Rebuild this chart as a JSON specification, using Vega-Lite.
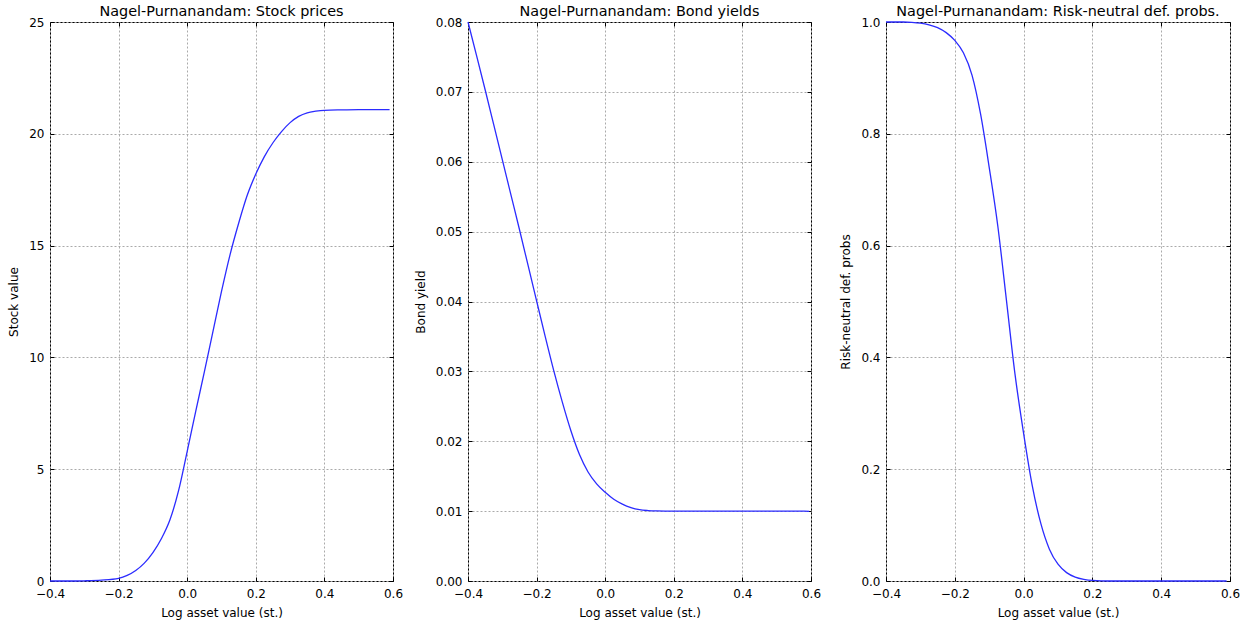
{
  "$schema": "https://vega.github.io/schema/vega-lite/v6.json",
  "background": "white",
  "padding": {"left": 7, "top": 3, "right": 5, "bottom": 5},
  "bounds": "flush",
  "spacing": 75,
  "datasets": {
    "stock": [
      {"x": -0.4, "v": 0.0}, {"x": -0.35, "v": 0.0}, {"x": -0.3, "v": 0.01}, {"x": -0.25, "v": 0.04},
      {"x": -0.2, "v": 0.12}, {"x": -0.175, "v": 0.25}, {"x": -0.15, "v": 0.47}, {"x": -0.125, "v": 0.8},
      {"x": -0.1, "v": 1.27}, {"x": -0.075, "v": 1.9}, {"x": -0.05, "v": 2.75}, {"x": -0.025, "v": 4.05},
      {"x": 0.0, "v": 5.8}, {"x": 0.025, "v": 7.6}, {"x": 0.05, "v": 9.35}, {"x": 0.075, "v": 11.15},
      {"x": 0.1, "v": 12.95}, {"x": 0.125, "v": 14.6}, {"x": 0.15, "v": 16.0}, {"x": 0.175, "v": 17.25},
      {"x": 0.2, "v": 18.2}, {"x": 0.225, "v": 18.98}, {"x": 0.25, "v": 19.6}, {"x": 0.275, "v": 20.1},
      {"x": 0.3, "v": 20.5}, {"x": 0.325, "v": 20.78}, {"x": 0.35, "v": 20.94}, {"x": 0.375, "v": 21.01},
      {"x": 0.4, "v": 21.05}, {"x": 0.45, "v": 21.07}, {"x": 0.5, "v": 21.08}, {"x": 0.55, "v": 21.08},
      {"x": 0.59, "v": 21.08}
    ],
    "bond": [
      {"x": -0.4, "v": 0.0800}, {"x": -0.375, "v": 0.0752}, {"x": -0.35, "v": 0.0703}, {"x": -0.325, "v": 0.0653},
      {"x": -0.3, "v": 0.0603}, {"x": -0.275, "v": 0.0553}, {"x": -0.25, "v": 0.0503}, {"x": -0.225, "v": 0.0452},
      {"x": -0.2, "v": 0.0401}, {"x": -0.175, "v": 0.0350}, {"x": -0.15, "v": 0.0301}, {"x": -0.125, "v": 0.0256},
      {"x": -0.1, "v": 0.0215}, {"x": -0.075, "v": 0.0181}, {"x": -0.05, "v": 0.0156}, {"x": -0.025, "v": 0.0139},
      {"x": 0.0, "v": 0.0127}, {"x": 0.025, "v": 0.0117}, {"x": 0.05, "v": 0.0110}, {"x": 0.075, "v": 0.0105},
      {"x": 0.1, "v": 0.0102}, {"x": 0.125, "v": 0.01008}, {"x": 0.15, "v": 0.01003}, {"x": 0.2, "v": 0.0100},
      {"x": 0.3, "v": 0.0100}, {"x": 0.4, "v": 0.0100}, {"x": 0.5, "v": 0.0100}, {"x": 0.58, "v": 0.0100},
      {"x": 0.595, "v": 0.00995}
    ],
    "prob": [
      {"x": -0.4, "v": 1.0}, {"x": -0.375, "v": 1.0}, {"x": -0.35, "v": 1.0}, {"x": -0.325, "v": 0.9995},
      {"x": -0.3, "v": 0.998}, {"x": -0.275, "v": 0.995}, {"x": -0.25, "v": 0.99}, {"x": -0.225, "v": 0.981},
      {"x": -0.2, "v": 0.967}, {"x": -0.175, "v": 0.945}, {"x": -0.15, "v": 0.905}, {"x": -0.125, "v": 0.835},
      {"x": -0.1, "v": 0.74}, {"x": -0.075, "v": 0.635}, {"x": -0.05, "v": 0.503}, {"x": -0.025, "v": 0.37},
      {"x": 0.0, "v": 0.264}, {"x": 0.025, "v": 0.171}, {"x": 0.05, "v": 0.103}, {"x": 0.075, "v": 0.057},
      {"x": 0.1, "v": 0.030}, {"x": 0.125, "v": 0.015}, {"x": 0.15, "v": 0.007}, {"x": 0.175, "v": 0.003},
      {"x": 0.2, "v": 0.001}, {"x": 0.25, "v": 0.0}, {"x": 0.3, "v": 0.0}, {"x": 0.4, "v": 0.0},
      {"x": 0.5, "v": 0.0}, {"x": 0.59, "v": 0.0}
    ]
  },
  "hconcat": [
    {
      "width": 343, "height": 559,
      "title": "Nagel-Purnanandam: Stock prices",
      "data": {"name": "stock"},
      "layer": [
        {
          "mark": {"type": "line", "color": "#2b2bff", "strokeWidth": 1.3, "interpolate": "monotone"},
          "encoding": {
            "x": {"field": "x", "type": "quantitative", "scale": {"domain": [-0.4, 0.6], "nice": false, "zero": false},
                  "axis": {"title": "Log asset value (st.)", "values": [-0.4, -0.2, 0, 0.2, 0.4, 0.6], "format": ".1f"}},
            "y": {"field": "v", "type": "quantitative", "scale": {"domain": [0, 25], "nice": false},
                  "axis": {"title": "Stock value", "values": [0, 5, 10, 15, 20, 25], "format": "d"}}
          }
        },
        {
          "mark": {"type": "line", "opacity": 0},
          "encoding": {
            "x": {"field": "x", "type": "quantitative", "scale": {"domain": [-0.4, 0.6], "nice": false, "zero": false},
                  "axis": {"orient": "top", "labels": false, "grid": false, "title": null, "values": [-0.4, -0.2, 0, 0.2, 0.4, 0.6]}},
            "y": {"field": "v", "type": "quantitative", "scale": {"domain": [0, 25], "nice": false},
                  "axis": {"orient": "right", "labels": false, "grid": false, "title": null, "values": [0, 5, 10, 15, 20, 25]}}
          }
        }
      ],
      "resolve": {"axis": {"x": "independent", "y": "independent"}}
    },
    {
      "width": 343, "height": 559,
      "title": "Nagel-Purnanandam: Bond yields",
      "data": {"name": "bond"},
      "layer": [
        {
          "mark": {"type": "line", "color": "#2b2bff", "strokeWidth": 1.3, "interpolate": "monotone"},
          "encoding": {
            "x": {"field": "x", "type": "quantitative", "scale": {"domain": [-0.4, 0.6], "nice": false, "zero": false},
                  "axis": {"title": "Log asset value (st.)", "values": [-0.4, -0.2, 0, 0.2, 0.4, 0.6], "format": ".1f"}},
            "y": {"field": "v", "type": "quantitative", "scale": {"domain": [0, 0.08], "nice": false},
                  "axis": {"title": "Bond yield", "values": [0, 0.01, 0.02, 0.03, 0.04, 0.05, 0.06, 0.07, 0.08], "format": ".2f"}}
          }
        },
        {
          "mark": {"type": "line", "opacity": 0},
          "encoding": {
            "x": {"field": "x", "type": "quantitative", "scale": {"domain": [-0.4, 0.6], "nice": false, "zero": false},
                  "axis": {"orient": "top", "labels": false, "grid": false, "title": null, "values": [-0.4, -0.2, 0, 0.2, 0.4, 0.6]}},
            "y": {"field": "v", "type": "quantitative", "scale": {"domain": [0, 0.08], "nice": false},
                  "axis": {"orient": "right", "labels": false, "grid": false, "title": null, "values": [0, 0.01, 0.02, 0.03, 0.04, 0.05, 0.06, 0.07, 0.08]}}
          }
        }
      ],
      "resolve": {"axis": {"x": "independent", "y": "independent"}}
    },
    {
      "width": 344, "height": 559,
      "title": "Nagel-Purnanandam: Risk-neutral def. probs.",
      "data": {"name": "prob"},
      "layer": [
        {
          "mark": {"type": "line", "color": "#2b2bff", "strokeWidth": 1.3, "interpolate": "monotone"},
          "encoding": {
            "x": {"field": "x", "type": "quantitative", "scale": {"domain": [-0.4, 0.6], "nice": false, "zero": false},
                  "axis": {"title": "Log asset value (st.)", "values": [-0.4, -0.2, 0, 0.2, 0.4, 0.6], "format": ".1f"}},
            "y": {"field": "v", "type": "quantitative", "scale": {"domain": [0, 1], "nice": false},
                  "axis": {"title": "Risk-neutral def. probs", "values": [0, 0.2, 0.4, 0.6, 0.8, 1.0], "format": ".1f"}}
          }
        },
        {
          "mark": {"type": "line", "opacity": 0},
          "encoding": {
            "x": {"field": "x", "type": "quantitative", "scale": {"domain": [-0.4, 0.6], "nice": false, "zero": false},
                  "axis": {"orient": "top", "labels": false, "grid": false, "title": null, "values": [-0.4, -0.2, 0, 0.2, 0.4, 0.6]}},
            "y": {"field": "v", "type": "quantitative", "scale": {"domain": [0, 1], "nice": false},
                  "axis": {"orient": "right", "labels": false, "grid": false, "title": null, "values": [0, 0.2, 0.4, 0.6, 0.8, 1.0]}}
          }
        }
      ],
      "resolve": {"axis": {"x": "independent", "y": "independent"}}
    }
  ],
  "config": {
    "font": "DejaVu Sans",
    "view": {"stroke": "#000", "strokeWidth": 1},
    "axis": {
      "labelFont": "DejaVu Sans", "labelFontSize": 12, "labelColor": "#000",
      "titleFont": "DejaVu Sans", "titleFontSize": 12, "titleFontWeight": "normal", "titleColor": "#000",
      "domain": false, "tickColor": "#000", "tickSize": -4, "tickWidth": 1,
      "labelPadding": 11, "titlePadding": 8, "labelFlush": false, "labelOverlap": false,
      "gridColor": "#aaaaaa", "gridDash": [2, 2], "gridWidth": 1
    },
    "axisY": {"titlePadding": 8, "labelPadding": 10},
    "title": {"font": "DejaVu Sans", "fontSize": 14.4, "fontWeight": "normal", "color": "#000", "offset": -3}
  }
}
